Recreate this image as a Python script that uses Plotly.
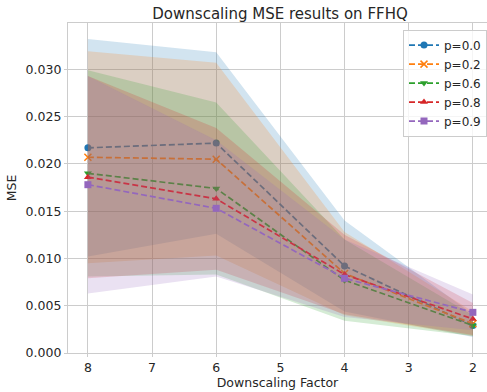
import plotly.graph_objects as go

factors = [8, 6, 4, 2]
p_labels = ["p=0.0", "p=0.2", "p=0.6", "p=0.8", "p=0.9"]
mean_p00 = [0.0217, 0.0222, 0.0092, 0.0029]
mean_p02 = [0.0207, 0.0205, 0.0084, 0.0031]
mean_p06 = [0.0190, 0.0174, 0.0077, 0.0029]
mean_p08 = [0.0186, 0.0163, 0.0083, 0.0036]
mean_p09 = [0.0178, 0.0153, 0.0079, 0.0043]
std_p00 = [0.0115, 0.0096, 0.0048, 0.0012]
std_p02 = [0.0112, 0.0102, 0.0044, 0.0013]
std_p06 = [0.0109, 0.0091, 0.0043, 0.0011]
std_p08 = [0.0107, 0.0075, 0.0042, 0.0017]
std_p09 = [0.0115, 0.0072, 0.0041, 0.0019]
y_ticks = [0.000, 0.005, 0.010, 0.015, 0.020, 0.025, 0.030]

means = [mean_p00, mean_p02, mean_p06, mean_p08, mean_p09]
stds = [std_p00, std_p02, std_p06, std_p08, std_p09]
colors = ["#1f77b4", "#ff7f0e", "#2ca02c", "#d62728", "#9467bd"]
fills = ["rgba(31,119,180,0.2)", "rgba(255,127,14,0.2)", "rgba(44,160,44,0.2)",
         "rgba(214,39,40,0.2)", "rgba(148,103,189,0.2)"]
symbols = ["circle", "x-thin-open", "triangle-down", "triangle-up", "square"]

fig = go.Figure()
for lab, m, s, c, f, sym in zip(p_labels, means, stds, colors, fills, symbols):
    lower = [a - b for a, b in zip(m, s)]
    upper = [a + b for a, b in zip(m, s)]
    fig.add_trace(go.Scatter(
        x=factors, y=m, name=lab, mode="lines+markers",
        line=dict(color=c, width=1.7, dash="6px,3px"),
        marker=dict(symbol=sym, size=7, color=c,
                    line=dict(color=c, width=1.5 if sym == "x-thin-open" else 0)),
    ))
    fig.add_trace(go.Scatter(x=factors, y=lower, mode="lines", line=dict(width=0),
                             showlegend=False, hoverinfo="skip"))
    fig.add_trace(go.Scatter(x=factors, y=upper, mode="lines", line=dict(width=0),
                             fill="tonexty", fillcolor=f,
                             showlegend=False, hoverinfo="skip"))

axis_common = dict(
    showgrid=True, gridcolor="#cccccc", gridwidth=1,
    showline=True, linecolor="#cccccc", linewidth=1.3, mirror=True,
    ticks="outside", ticklen=3, tickcolor="#cccccc",
    zeroline=False,
    tickfont=dict(family="DejaVu Sans", size=12.5, color="#262626"),
)

fig.update_layout(
    width=487, height=392,
    margin=dict(l=68, r=0, t=23, b=39),
    paper_bgcolor="white", plot_bgcolor="white",
    font=dict(family="DejaVu Sans", color="#262626", size=12.5),
    title=dict(text="Downscaling MSE results on FFHQ", x=0.575, xanchor="center",
               y=0.965, yanchor="middle", font=dict(size=15, color="#262626")),
    xaxis=dict(range=[8.31, 1.78], tickvals=factors + [7, 5, 3],
               title=dict(text="Downscaling Factor", standoff=3,
                          font=dict(size=12.5)), **axis_common),
    yaxis=dict(range=[0, 0.0349], tickvals=y_ticks, tickformat=".3f",
               title=dict(text="MSE", standoff=6, font=dict(size=12.5)),
               **axis_common),
    legend=dict(x=0.8, y=0.98, xanchor="left", yanchor="top",
                traceorder="normal",
                bgcolor="rgba(255,255,255,0.8)", bordercolor="#cccccc", borderwidth=1,
                font=dict(size=12, color="#262626"), itemwidth=30,
                tracegroupgap=0),
    showlegend=True,
)

fig.write_html("out.html")
